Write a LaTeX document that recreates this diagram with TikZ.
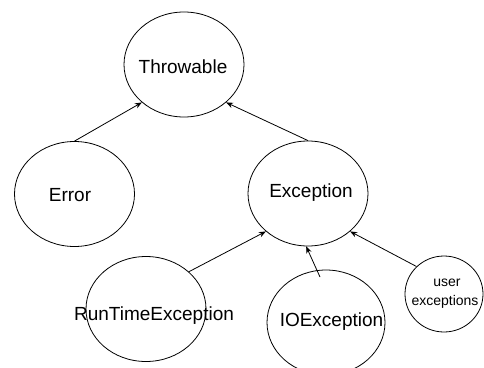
\documentclass[tikz,border=0pt]{standalone}
\usepackage{fontspec}
\setmainfont{Liberation Sans}
\usetikzlibrary{shapes.geometric,arrows.meta}
\begin{document}
\begin{tikzpicture}[x=1pt,y=-1pt,
  ell/.style={draw=black,line width=0.8pt,ellipse,inner sep=0pt,minimum width=120pt,minimum height=105pt},
  lbl/.style={anchor=base,inner sep=0pt,font=\fontsize{19}{22}\selectfont},
  slbl/.style={anchor=base,inner sep=0pt,font=\fontsize{14}{16}\selectfont},
  arr/.style={draw=black,line width=0.8pt,-{Stealth[length=7pt,width=5.5pt]}}]
\useasboundingbox (0,0) rectangle (484,367);
\begin{scope}
\clip (0,0) rectangle (484,367);
\node[ell] (thr) at (184,64.5) {};
\node[ell] (err) at (74.5,194) {};
\node[ell] (exc) at (308,193.5) {};
\node[ell] (rte) at (146,309) {};
\node[ell,minimum width=118pt] (ioe) at (326,322.5) {};
\node[ell,minimum width=78pt,minimum height=76pt] (ue) at (444,294) {};
\end{scope}
\node[lbl] (thrl) at (183,73) {Throwable};
\node[lbl] (errl) at (70,201) {Error};
\node[lbl] (excl) at (311,197.7) {Exception};
\node[lbl] (rtel) at (154,320.7) {RunTimeException};
\node[lbl] (ioel) at (331.5,326.7) {IOException};
\node[slbl] (uel1) at (447,286.7) {user};
\node[slbl] (uel2) at (445,305) {exceptions};
\coordinate (ioes) at (320,277);
\draw[arr] (err.north) -- (thr.222);
\draw[arr] (exc.north) -- (thr.318);
\draw[arr] (rte.41) -- (exc.222.5);
\draw[arr] (ioes) -- (exc.268);
\draw[arr] (ue.135) -- (exc.318.4);
\end{tikzpicture}
\end{document}
